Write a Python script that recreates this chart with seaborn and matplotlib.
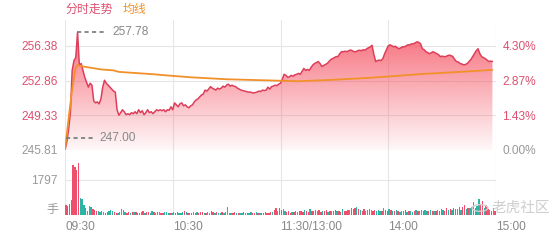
import numpy as np
import pandas as pd
import matplotlib
matplotlib.use("Agg")
import matplotlib.pyplot as plt
import seaborn as sns
from matplotlib.patches import Polygon, Circle

# ---------------- data ----------------
prev_close = 245.81
price_ticks = [245.81, 249.33, 252.86, 256.38]
pct_labels = ["0.00%", "1.43%", "2.87%", "4.30%"]
time_ticks = [0, 60, 120, 180, 240]
time_labels = ["09:30", "10:30", "11:30/13:00", "14:00", "15:00"]
vol_tick = 1797
day_high = 257.78
day_low = 247.00

price = [
    245.85, 246.6, 247.9, 249.6, 253.9, 254.9, 255.2, 257.78, 254.4, 254.6,
    253.9, 253.2, 252.7, 252.2, 252.6, 252.4, 250.8, 250.6, 250.7, 250.5,
    251.0, 252.2, 252.9, 252.6, 252.4, 252.2, 252.0, 251.8, 251.7, 249.9,
    249.35, 249.6, 249.9, 249.7, 249.4, 249.5, 249.4, 249.6, 249.5, 249.7,
    249.5, 249.9, 249.6, 249.8, 249.4, 249.6, 249.9, 249.6, 249.7, 249.5,
    249.7, 249.9, 249.8, 249.9, 249.8, 249.9, 249.7, 249.9, 249.85, 250.2,
    249.9, 250.6, 250.4, 250.2, 250.5, 250.6, 250.3, 250.4, 250.2, 250.1,
    250.3, 250.4, 250.7, 250.9, 251.0, 251.2, 251.4, 251.5, 251.9, 251.8,
    252.0, 252.25, 252.1, 252.0, 251.9, 252.1, 252.0, 252.1, 252.3, 252.2,
    252.4, 252.5, 252.3, 252.4, 252.3, 252.25, 252.1, 252.0, 251.9, 251.85,
    251.8, 251.75, 251.7, 251.7, 251.65, 251.6, 251.65, 251.7, 251.8, 251.75,
    251.9, 251.85, 251.9, 252.2, 252.0, 252.25, 252.3, 252.4, 252.35, 252.5,
    252.6, 253.0, 253.5, 253.4, 253.2, 253.25, 253.4, 253.3, 253.45, 253.5,
    253.6, 253.5, 253.8, 254.1, 253.9, 254.0, 253.9, 254.2, 254.45, 254.6,
    254.7, 254.8, 254.6, 254.3, 254.4, 254.5, 254.6, 254.8, 255.0, 255.1,
    255.2, 255.3, 255.3, 255.6, 255.8, 255.8, 255.85, 255.8, 255.9, 255.97,
    255.9, 255.8, 255.8, 255.9, 255.95, 255.9, 256.0, 255.95, 256.1, 256.2,
    256.3, 256.45, 255.5, 254.8, 254.9, 254.95, 254.9, 255.1, 255.6, 256.0,
    256.4, 256.5, 256.4, 256.3, 256.35, 256.2, 256.1, 256.2, 256.3, 256.3,
    256.4, 256.5, 256.5, 256.6, 256.6, 256.7, 256.8, 256.75, 256.6, 256.1,
    256.0, 255.8, 255.7, 255.6, 255.7, 255.8, 255.7, 255.6, 255.5, 255.3,
    255.35, 255.3, 255.3, 255.4, 255.45, 255.4, 255.3, 255.0, 254.8, 254.75,
    254.6, 254.55, 254.45, 254.5, 254.6, 254.8, 255.0, 255.3, 255.6, 255.9,
    256.1, 255.6, 255.3, 255.2, 255.1, 254.95, 254.8, 254.85, 254.8,
]

avg_minute = [0, 2, 4, 6, 7, 10, 20, 27, 30, 50, 56, 70, 90, 110, 120, 130,
              150, 170, 185, 200, 220, 238]
avg_price = [245.81, 249.0, 252.0, 254.2, 254.45, 254.3, 254.0, 253.9, 253.75,
             253.5, 253.4, 253.2, 253.0, 252.9, 252.85, 252.8, 252.95, 253.15,
             253.35, 253.55, 253.75, 253.95]

volume = [
    500, 480, 540, 780, 2550, 2480, 2300, 2690, 880, 820,
    520, 380, 230, 470, 420, 300, 250, 180, 210, 150,
    190, 140, 120, 160, 230, 250, 180, 140, 120, 110,
    160, 290, 260, 140, 120, 150, 110, 130, 170, 140,
    120, 100, 160, 180, 110, 130, 150, 120, 200, 140,
    110, 130, 160, 120, 100, 140, 150, 110, 120, 90,
    130, 110, 150, 120, 100, 130, 180, 140, 110, 120,
    100, 140, 120, 160, 110, 130, 150, 110, 100, 140,
    120, 180, 140, 110, 130, 120, 100, 150, 110, 130,
    420, 100, 120, 110, 140, 100, 120, 90, 110, 130,
    100, 120, 110, 140, 100, 110, 130, 120, 100, 110,
    120, 140, 110, 120, 170, 150, 280, 350, 200, 380,
    260, 330, 200, 150, 180, 120, 160, 140, 200, 170,
    220, 180, 150, 260, 200, 160, 300, 220, 180, 240,
    200, 280, 170, 220, 190, 250, 160, 200, 180, 230,
    250, 190, 210, 170, 300, 230, 200, 280, 240, 340,
    300, 380, 420, 320, 260, 220, 300, 200, 250, 330,
    280, 210, 240, 200, 260, 220, 180, 360, 240, 200,
    300, 260, 220, 180, 240, 200, 160, 220, 190, 260,
    170, 230, 200, 160, 210, 250, 190, 230, 280, 200,
    240, 210, 180, 260, 220, 200, 180, 250, 220, 300,
    260, 220, 340, 280, 300, 240, 380, 320, 290, 420,
    260, 400, 520, 300, 380, 340, 420, 650, 380, 480,
    820, 560, 700, 380, 520, 300, 260, 220, 380, 200,
]

vol_dir = list(
    "rrrrrrrrgggrgggrrrgg" "ggrrgggrrgggggrrgrgr" "rggrgrrggrgrgrrgggrg"
    "grrgggrgrrggrgrrrgrg" "grrgrggrgrgggrrgrggr" "grggrrgrgrrgrrrgrrgr"
    "rggrrrgrrgrrrgrrgrrr" "grrgrrgrgrrgrrgrrrgr" "rrgrgrrggrgrrgggrgrr"
    "grgrgrgggrgrggrgrggr" "ggrgrgrgrrgrrgrgrrgr" "grrgrggrrggrrgrrgrgr"
)

# ---------------- style ----------------
sns.set_theme(style="white")
plt.rcParams["font.family"] = ["Liberation Sans", "Noto Sans CJK SC", "DejaVu Sans"]

RED = "#de3e5a"
LABEL_RED = "#dd5070"
ORANGE = "#f2902a"
TEAL = "#2cb5a5"
BARRED = "#ee4f6d"
GRAY = "#999999"
GRID = "#e6e6e6"

W, H = 560, 240
fig = plt.figure(figsize=(W / 100, H / 100), dpi=100)
fig.patch.set_facecolor("white")

def fx(px):
    return px / W

def fy(py):
    return 1 - py / H

ax = fig.add_axes([fx(65), fy(150), (496 - 65) / W, 130 / H])
axv = fig.add_axes([fx(65), fy(215), (496 - 65) / W, 65 / H])

ytop = prev_close + 130 / (104 / (256.38 - 245.81))

minutes = np.arange(len(price))
df = pd.DataFrame({"minute": minutes, "price": price})
dfa = pd.DataFrame({"minute": avg_minute, "avg": avg_price})

# gradient fill under the price line
n = 256
alpha = np.linspace(0.90, 0.04, n)
img = np.zeros((n, 2, 4))
img[..., 0] = 245 / 255
img[..., 1] = 80 / 255
img[..., 2] = 96 / 255
img[..., 3] = alpha[:, None]
im = ax.imshow(img, extent=[0, 240, prev_close, ytop], aspect="auto",
               origin="upper", zorder=1, interpolation="bilinear")
verts = [(0, prev_close)] + list(zip(minutes, price)) + [(minutes[-1], prev_close)]
patch = Polygon(verts, closed=True, facecolor="none", edgecolor="none",
                transform=ax.transData)
ax.add_patch(patch)
im.set_clip_path(patch)

sns.lineplot(data=df, x="minute", y="price", ax=ax, color=RED, lw=1.1, zorder=3)
sns.lineplot(data=dfa, x="minute", y="avg", ax=ax, color=ORANGE, lw=1.3, zorder=4)

ax.set_xlim(0, 240)
ax.set_ylim(prev_close, ytop)
ax.set_xlabel("")
ax.set_ylabel("")
ax.set_xticks(time_ticks)
ax.set_yticks(price_ticks)
ax.set_yticklabels([f"{v:.2f}" for v in price_ticks], fontsize=8.6)
for lbl, v in zip(ax.get_yticklabels(), price_ticks):
    lbl.set_color(GRAY if v == prev_close else LABEL_RED)
ax.tick_params(axis="x", labelbottom=False, length=0)
ax.tick_params(axis="y", length=0, pad=5.5)
ax.grid(True, color=GRID, lw=0.8)
ax.set_axisbelow(True)
for s in ax.spines.values():
    s.set_visible(False)

ax2 = ax.twinx()
ax2.set_ylim(prev_close, ytop)
ax2.set_yticks(price_ticks)
ax2.set_yticklabels(pct_labels, fontsize=8.6)
for lbl, v in zip(ax2.get_yticklabels(), price_ticks):
    lbl.set_color(GRAY if v == prev_close else LABEL_RED)
ax2.tick_params(axis="y", length=0, pad=4.5)
ax2.grid(False)
for s in ax2.spines.values():
    s.set_visible(False)

# high / low markers
hi_i = int(np.argmax(price))
ax.plot([hi_i - 0.3, 22.3], [day_high, day_high], color="#777777", lw=1.2,
        ls=(0, (2.5, 2.0)), zorder=5)
ax.text(26.2, day_high, f"{day_high:.2f}", color="#888888", fontsize=8.6,
        va="center", ha="left", zorder=5)
ax.plot([0.3, 16.7], [day_low, day_low], color="#777777", lw=1.2,
        ls=(0, (2.5, 2.0)), zorder=5)
ax.text(18.9, day_low, f"{day_low:.2f}", color="#888888", fontsize=8.6,
        va="center", ha="left", zorder=5)

# volume bars
bar_colors = [BARRED if d == "r" else TEAL for d in vol_dir]
axv.bar(np.arange(len(volume)) + 0.5, volume, width=0.75, color=bar_colors,
        linewidth=0, zorder=3)
axv.set_xlim(0, 240)
axv.set_ylim(0, vol_tick * 65 / 35)
axv.set_yticks([0, vol_tick])
axv.set_yticklabels(["", str(vol_tick)], fontsize=8.6, color=GRAY)
axv.tick_params(axis="y", length=0, pad=5.5)
axv.set_xticks(time_ticks)
axv.set_xticklabels(time_labels, fontsize=8.6, color="#888888", ha="left")
axv.tick_params(axis="x", length=0, pad=4)
axv.grid(True, color=GRID, lw=0.8)
axv.set_axisbelow(True)
for s in axv.spines.values():
    s.set_visible(False)

fig.text(fx(58), fy(210), "手", color=GRAY, fontsize=8.6, ha="right", va="center")

# header
fig.text(fx(65), fy(10), "分时走势", color=LABEL_RED, fontsize=8.6, va="center")
fig.text(fx(123), fy(10), "均线", color=ORANGE, fontsize=8.6, va="center")

# watermark
fig.text(fx(492), fy(208), "老虎社区", color="#c9c9c9", fontsize=10.5, va="center",
         ha="left", alpha=0.9)
fig.patches.append(Circle((fx(480), fy(208)), 0.014, transform=fig.transFigure,
                          facecolor="none", edgecolor="#cfcfcf", lw=1.0))

fig.savefig("out.png", dpi=100)
